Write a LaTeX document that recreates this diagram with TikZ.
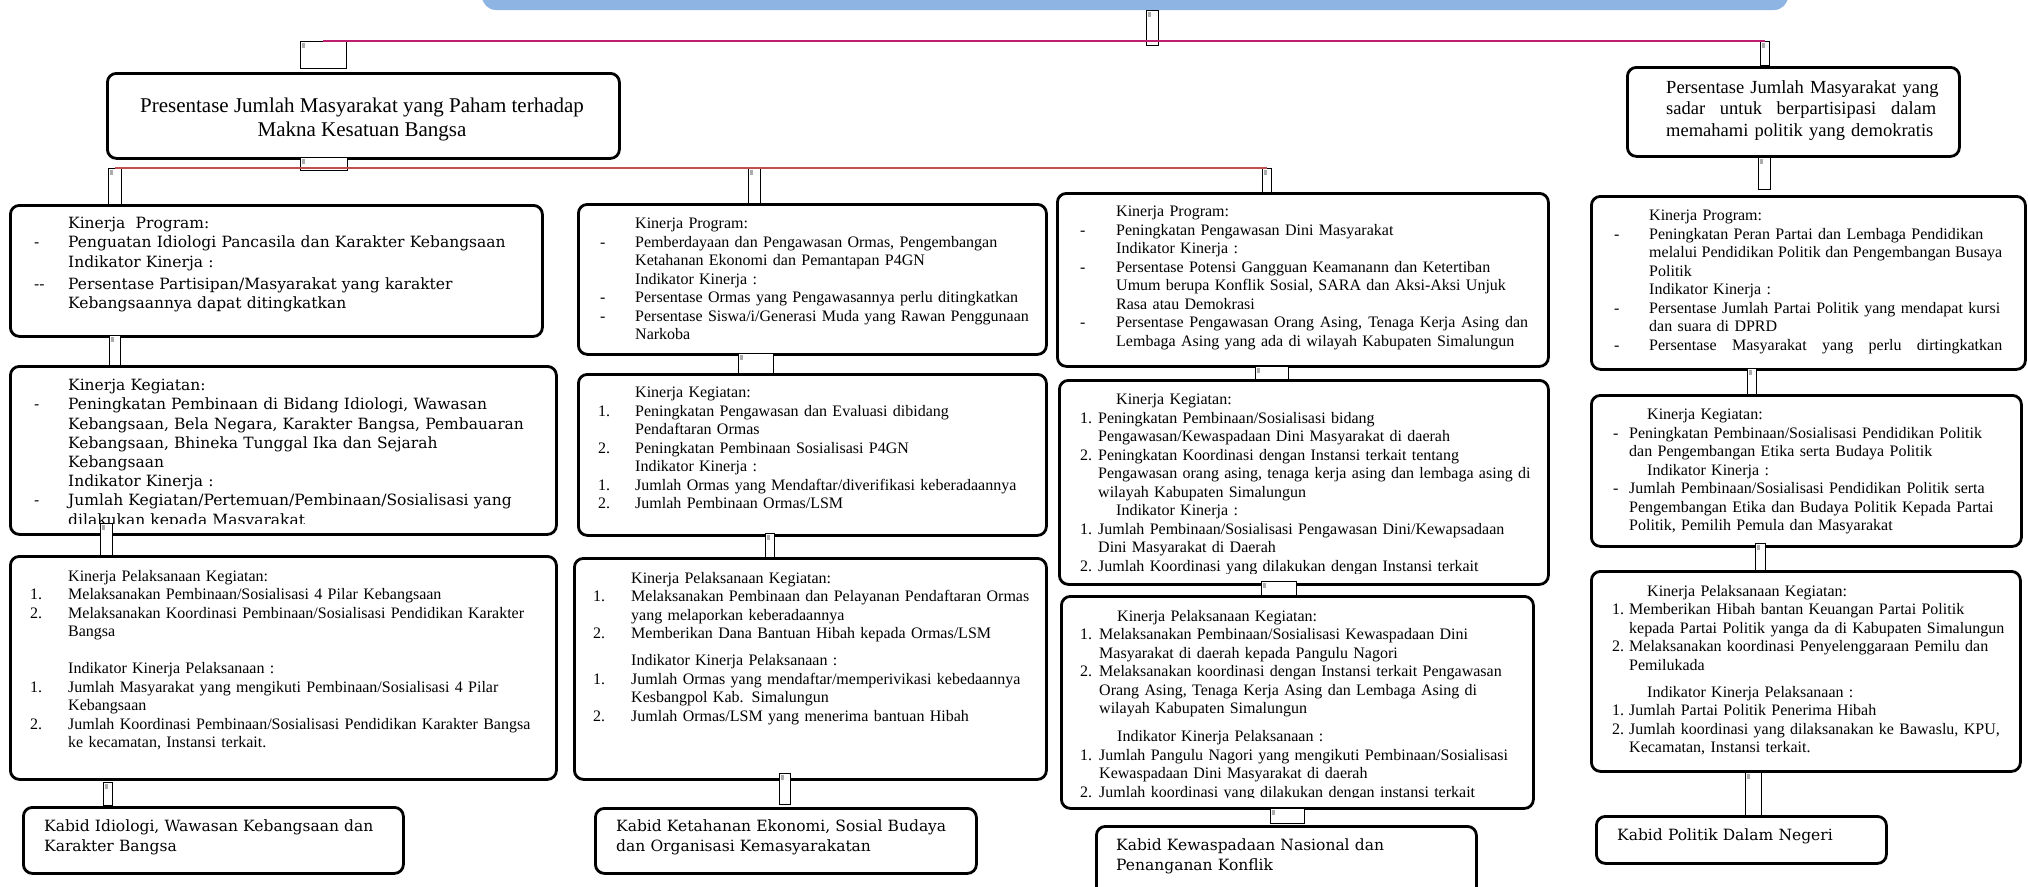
\documentclass[tikz,border=0pt]{standalone}
\usepackage{fontspec}
\setmainfont{Liberation Serif}
\newfontfamily\bkfont{DejaVu Serif}
\newlength\itw
\newlength\hdw
\newcommand{\itlab}[1]{\makebox[\itw][l]{#1}}
\newcommand{\itind}{\hspace*{\itw}}
\newcommand{\hdind}{\hspace*{\hdw}}
\newcommand{\jline}[2]{\makebox[#1][s]{\spaceskip=.25em plus 1fil\relax #2}}
\definecolor{bannerblue}{HTML}{8DB4E2}
\definecolor{magline}{HTML}{BE1E6E}
\definecolor{redline}{HTML}{C0504D}
\tikzset{
  box/.style={draw, line width=2.8pt, rounded corners=9pt, anchor=north west, inner sep=0pt},
  ph/.style={draw, line width=0.6pt, fill=white, anchor=north west, inner sep=0pt,
    path picture={\fill[gray!65] ([xshift=1.2pt,yshift=-1.2pt]path picture bounding box.north west) rectangle ++(3.5pt,-5pt);}},
  txt/.style={inner sep=0pt, anchor=north west, align=left, text width=#1},
  txt/.default=480pt,
  tm/.style={font=\fontsize{16}{18.5}\selectfont},
  bk/.style={font=\bkfont\fontsize{15.5}{19.2}\selectfont},
  indents/.style 2 args={execute at begin node={\setlength\itw{#1}\setlength\hdw{#2}}},
}
\begin{document}
\begin{tikzpicture}[x=1pt,y=-1pt]
\useasboundingbox (0,0) rectangle (2028,886);
\clip (0,0) rectangle (2028,886);
\fill[white] (0,0) rectangle (2028,886);

% banner at the top
\fill[bannerblue, rounded corners=14pt] (482,-30) rectangle (1788,10);

% goal boxes
\node[box, minimum width=512pt, minimum height=85pt] (goalA) at (106,72) {};
\node[font=\fontsize{21}{23.5}\selectfont, align=center, anchor=north, inner sep=0pt] (goalAtxt) at (362,98)
  {Presentase Jumlah Masyarakat yang Paham terhadap\\Makna Kesatuan Bangsa};
\node[box, minimum width=332pt, minimum height=89pt] (goalB) at (1626,66) {};
\node[txt=290pt, font=\fontsize{18.5}{21.5}\selectfont] (goalBtxt) at (1666,80)
  {Persentase Jumlah Masyarakat yang\\
   \jline{270pt}{sadar untuk berpartisipasi dalam}\\
   memahami politik yang demokratis};

% column 1
\node[box, minimum width=532pt, minimum height=131pt] (prog1) at (9,204) {};
\node[box, minimum width=546pt, minimum height=168pt] (keg1) at (9,365) {};
\node[box, minimum width=546pt, minimum height=223pt] (pel1) at (9,555) {};
\node[box, minimum width=380pt, minimum height=66pt] (kabid1) at (22,806) {};

\node[txt, bk, indents={34pt}{34pt}] (prog1txt) at (34,217)
  {\itind Kinerja\ \ Program:\\
   \itlab{-}Penguatan Idiologi Pancasila dan Karakter Kebangsaan\\
   \itind Indikator Kinerja :\\[3.5pt]
   \itlab{--}Persentase Partisipan/Masyarakat yang karakter\\
   \itind Kebangsaannya dapat ditingkatkan};
\begin{scope}
  \clip (keg1.north west) rectangle ([yshift=12pt]keg1.south east);
  \node[txt=520pt, bk, indents={34pt}{34pt}] (keg1txt) at (34,379)
    {\itind Kinerja Kegiatan:\\
     \itlab{-}Peningkatan Pembinaan di Bidang Idiologi, Wawasan\\
     \itind Kebangsaan, Bela Negara, Karakter Bangsa, Pembauaran\\
     \itind Kebangsaan, Bhineka Tunggal Ika dan Sejarah\\
     \itind Kebangsaan\\
     \itind Indikator Kinerja :\\
     \itlab{-}Jumlah Kegiatan/Pertemuan/Pembinaan/Sosialisasi yang\\
     \itind dilakukan kepada Masyarakat};
\end{scope}
\node[txt=520pt, tm, indents={38pt}{38pt}] (pel1txt) at (30,570)
  {\itind Kinerja Pelaksanaan Kegiatan:\\
   \itlab{1.}Melaksanakan Pembinaan/Sosialisasi 4 Pilar Kebangsaan\\
   \itlab{2.}Melaksanakan Koordinasi Pembinaan/Sosialisasi Pendidikan Karakter\\
   \itind Bangsa\\[18.5pt]
   \itind Indikator Kinerja Pelaksanaan :\\
   \itlab{1.}Jumlah Masyarakat yang mengikuti Pembinaan/Sosialisasi 4 Pilar\\
   \itind Kebangsaan\\
   \itlab{2.}Jumlah Koordinasi Pembinaan/Sosialisasi Pendidikan Karakter Bangsa\\
   \itind ke kecamatan, Instansi terkait.};
\node[txt=350pt, bk] (kabid1txt) at (44,820)
  {Kabid Idiologi, Wawasan Kebangsaan dan\\Karakter Bangsa};

% column 2
\node[box, minimum width=468pt, minimum height=150pt] (prog2) at (577,203) {};
\node[box, minimum width=468pt, minimum height=161pt] (keg2) at (577,373) {};
\node[box, minimum width=472pt, minimum height=221pt] (pel2) at (573,557) {};
\node[box, minimum width=381pt, minimum height=65pt] (kabid2) at (594,807) {};

\node[txt=440pt, tm, indents={35pt}{35pt}] (prog2txt) at (600,218)
  {\itind Kinerja Program:\\
   \itlab{-}Pemberdayaan dan Pengawasan Ormas, Pengembangan\\
   \itind Ketahanan Ekonomi dan Pemantapan P4GN\\
   \itind Indikator Kinerja :\\
   \itlab{-}Persentase Ormas yang Pengawasannya perlu ditingkatkan\\
   \itlab{-}Persentase Siswa/i/Generasi Muda yang Rawan Penggunaan\\
   \itind Narkoba};
\node[txt=440pt, tm, indents={37pt}{37pt}] (keg2txt) at (598,387)
  {\itind Kinerja Kegiatan:\\
   \itlab{1.}Peningkatan Pengawasan dan Evaluasi dibidang\\
   \itind Pendaftaran Ormas\\
   \itlab{2.}Peningkatan Pembinaan Sosialisasi P4GN\\
   \itind Indikator Kinerja :\\
   \itlab{1.}Jumlah Ormas yang Mendaftar/diverifikasi keberadaannya\\
   \itlab{2.}Jumlah Pembinaan Ormas/LSM};
\node[txt=445pt, tm, indents={38pt}{38pt}] (pel2txt) at (593,572)
  {\itind Kinerja Pelaksanaan Kegiatan:\\
   \itlab{1.}Melaksanakan Pembinaan dan Pelayanan Pendaftaran Ormas\\
   \itind yang melaporkan keberadaannya\\
   \itlab{2.}Memberikan Dana Bantuan Hibah kepada Ormas/LSM\\[8.5pt]
   \itind Indikator Kinerja Pelaksanaan :\\
   \itlab{1.}Jumlah Ormas yang mendaftar/memperivikasi kebedaannya\\
   \itind Kesbangpol Kab. Simalungun\\
   \itlab{2.}Jumlah Ormas/LSM yang menerima bantuan Hibah};
\node[txt=350pt, bk] (kabid2txt) at (616,820)
  {Kabid Ketahanan Ekonomi, Sosial Budaya\\dan Organisasi Kemasyarakatan};

% column 3
\node[box, minimum width=491pt, minimum height=173pt] (prog3) at (1056,192) {};
\node[box, minimum width=489pt, minimum height=204pt] (keg3) at (1058,379) {};
\node[box, minimum width=472pt, minimum height=212pt] (pel3) at (1060,595) {};
\node[box, minimum width=380pt, minimum height=80pt] (kabid3) at (1095,825) {};

\node[txt=460pt, tm, indents={36pt}{36pt}] (prog3txt) at (1080,206)
  {\itind Kinerja Program:\\
   \itlab{-}Peningkatan Pengawasan Dini Masyarakat\\
   \itind Indikator Kinerja :\\
   \itlab{-}Persentase Potensi Gangguan Keamanann dan Ketertiban\\
   \itind Umum berupa Konflik Sosial, SARA dan Aksi-Aksi Unjuk\\
   \itind Rasa atau Demokrasi\\
   \itlab{-}\jline{412pt}{Persentase Pengawasan Orang Asing, Tenaga Kerja Asing dan}\\
   \itind Lembaga Asing yang ada di wilayah Kabupaten Simalungun};
\begin{scope}
  \clip (keg3.north west) rectangle ([yshift=12pt]keg3.south east);
  \node[txt=460pt, tm, indents={18pt}{36pt}] (keg3txt) at (1080,394)
    {\hdind Kinerja Kegiatan:\\
     \itlab{1.}Peningkatan Pembinaan/Sosialisasi bidang\\
     \itind Pengawasan/Kewaspadaan Dini Masyarakat di daerah\\
     \itlab{2.}Peningkatan Koordinasi dengan Instansi terkait tentang\\
     \itind Pengawasan orang asing, tenaga kerja asing dan lembaga asing di\\
     \itind wilayah Kabupaten Simalungun\\
     \hdind Indikator Kinerja :\\
     \itlab{1.}Jumlah Pembinaan/Sosialisasi Pengawasan Dini/Kewapsadaan\\
     \itind Dini Masyarakat di Daerah\\
     \itlab{2.}Jumlah Koordinasi yang dilakukan dengan Instansi terkait};
\end{scope}
\begin{scope}
  \clip (pel3.north west) rectangle ([yshift=12pt]pel3.south east);
  \node[txt=445pt, tm, indents={19pt}{37pt}] (pel3txt) at (1080,610)
    {\hdind Kinerja Pelaksanaan Kegiatan:\\
     \itlab{1.}Melaksanakan Pembinaan/Sosialisasi Kewaspadaan Dini\\
     \itind Masyarakat di daerah kepada Pangulu Nagori\\
     \itlab{2.}Melaksanakan koordinasi dengan Instansi terkait Pengawasan\\
     \itind Orang Asing, Tenaga Kerja Asing dan Lembaga Asing di\\
     \itind wilayah Kabupaten Simalungun\\[9.5pt]
     \hdind Indikator Kinerja Pelaksanaan :\\
     \itlab{1.}Jumlah Pangulu Nagori yang mengikuti Pembinaan/Sosialisasi\\
     \itind Kewaspadaan Dini Masyarakat di daerah\\
     \itlab{2.}Jumlah koordinasi yang dilakukan dengan instansi terkait};
\end{scope}
\node[txt=350pt, bk] (kabid3txt) at (1116,839)
  {Kabid Kewaspadaan Nasional dan\\Penanganan Konflik};

% column 4
\node[box, minimum width=434pt, minimum height=173pt] (prog4) at (1590,195) {};
\node[box, minimum width=430pt, minimum height=151pt] (keg4) at (1590,394) {};
\node[box, minimum width=429pt, minimum height=200pt] (pel4) at (1590,570) {};
\node[box, minimum width=290pt, minimum height=47pt] (kabid4) at (1595,815) {};

\node[txt=405pt, tm, indents={35pt}{35pt}] (prog4txt) at (1614,210)
  {\itind Kinerja Program:\\
   \itlab{-}Peningkatan Peran Partai dan Lembaga Pendidikan\\
   \itind \jline{353pt}{melalui Pendidikan Politik dan Pengembangan Busaya}\\
   \itind Politik\\
   \itind Indikator Kinerja :\\
   \itlab{-}Persentase Jumlah Partai Politik yang mendapat kursi\\
   \itind dan suara di DPRD\\
   \itlab{-}\jline{353pt}{Persentase Masyarakat yang perlu dirtingkatkan}};
\node[txt=405pt, tm, indents={16pt}{34pt}] (keg4txt) at (1613,409)
  {\hdind Kinerja Kegiatan:\\
   \itlab{-}Peningkatan Pembinaan/Sosialisasi Pendidikan Politik\\
   \itind dan Pengembangan Etika serta Budaya Politik\\
   \hdind Indikator Kinerja :\\
   \itlab{-}Jumlah Pembinaan/Sosialisasi Pendidikan Politik serta\\
   \itind Pengembangan Etika dan Budaya Politik Kepada Partai\\
   \itind Politik, Pemilih Pemula dan Masyarakat};
\node[txt=405pt, tm, indents={17pt}{35pt}] (pel4txt) at (1612,585)
  {\hdind Kinerja Pelaksanaan Kegiatan:\\
   \itlab{1.}Memberikan Hibah bantan Keuangan Partai Politik\\
   \itind kepada Partai Politik yanga da di Kabupaten Simalungun\\
   \itlab{2.}Melaksanakan koordinasi Penyelenggaraan Pemilu dan\\
   \itind Pemilukada\\[8.5pt]
   \hdind Indikator Kinerja Pelaksanaan :\\
   \itlab{1.}Jumlah Partai Politik Penerima Hibah\\
   \itlab{2.}Jumlah koordinasi yang dilaksanakan ke Bawaslu, KPU,\\
   \itind Kecamatan, Instansi terkait.};
\node[txt=260pt, bk] (kabid4txt) at (1617,829) {Kabid Politik Dalam Negeri};

% image placeholders that stand in for the links
\node[ph, minimum width=12pt, minimum height=35pt] (phtop) at (1146,10) {};
\node[ph, minimum width=46pt, minimum height=27pt] (phl) at (300,41) {};
\node[ph, minimum width=9pt, minimum height=24pt] (phr) at (1760,41) {};
\node[ph, minimum width=47pt, minimum height=13pt] (pha) at (300,157) {};
\node[ph, minimum width=12pt, minimum height=32pt] (phb) at (1758,157) {};
\node[ph, minimum width=13pt, minimum height=36pt] (ph11) at (108,168) {};
\node[ph, minimum width=11pt, minimum height=30pt] (ph12) at (109,335) {};
\node[ph, minimum width=12pt, minimum height=32pt] (ph13) at (100,523) {};
\node[ph, minimum width=9pt, minimum height=23pt] (ph14) at (103,782) {};
\node[ph, minimum width=12pt, minimum height=35pt] (ph21) at (748,168) {};
\node[ph, minimum width=35pt, minimum height=20pt] (ph22) at (738,353) {};
\node[ph, minimum width=9pt, minimum height=24pt] (ph23) at (765,533) {};
\node[ph, minimum width=11pt, minimum height=31pt] (ph24) at (779,773) {};
\node[ph, minimum width=9pt, minimum height=24pt] (ph31) at (1262,168) {};
\node[ph, minimum width=33pt, minimum height=13pt] (ph32) at (1255,366) {};
\node[ph, minimum width=35pt, minimum height=14pt] (ph33) at (1261,581) {};
\node[ph, minimum width=34pt, minimum height=15pt] (ph34) at (1270,808) {};
\node[ph, minimum width=9pt, minimum height=26pt] (ph42) at (1747,368) {};
\node[ph, minimum width=10pt, minimum height=27pt] (ph43) at (1755,543) {};
\node[ph, minimum width=16pt, minimum height=43pt] (ph44) at (1745,772) {};

% connector lines
\draw[magline, line width=2.6pt] (phl.north) -- (phr.north);
\draw[redline, line width=2.6pt] (ph11.north) -- (ph31.north);
\end{tikzpicture}
\end{document}
